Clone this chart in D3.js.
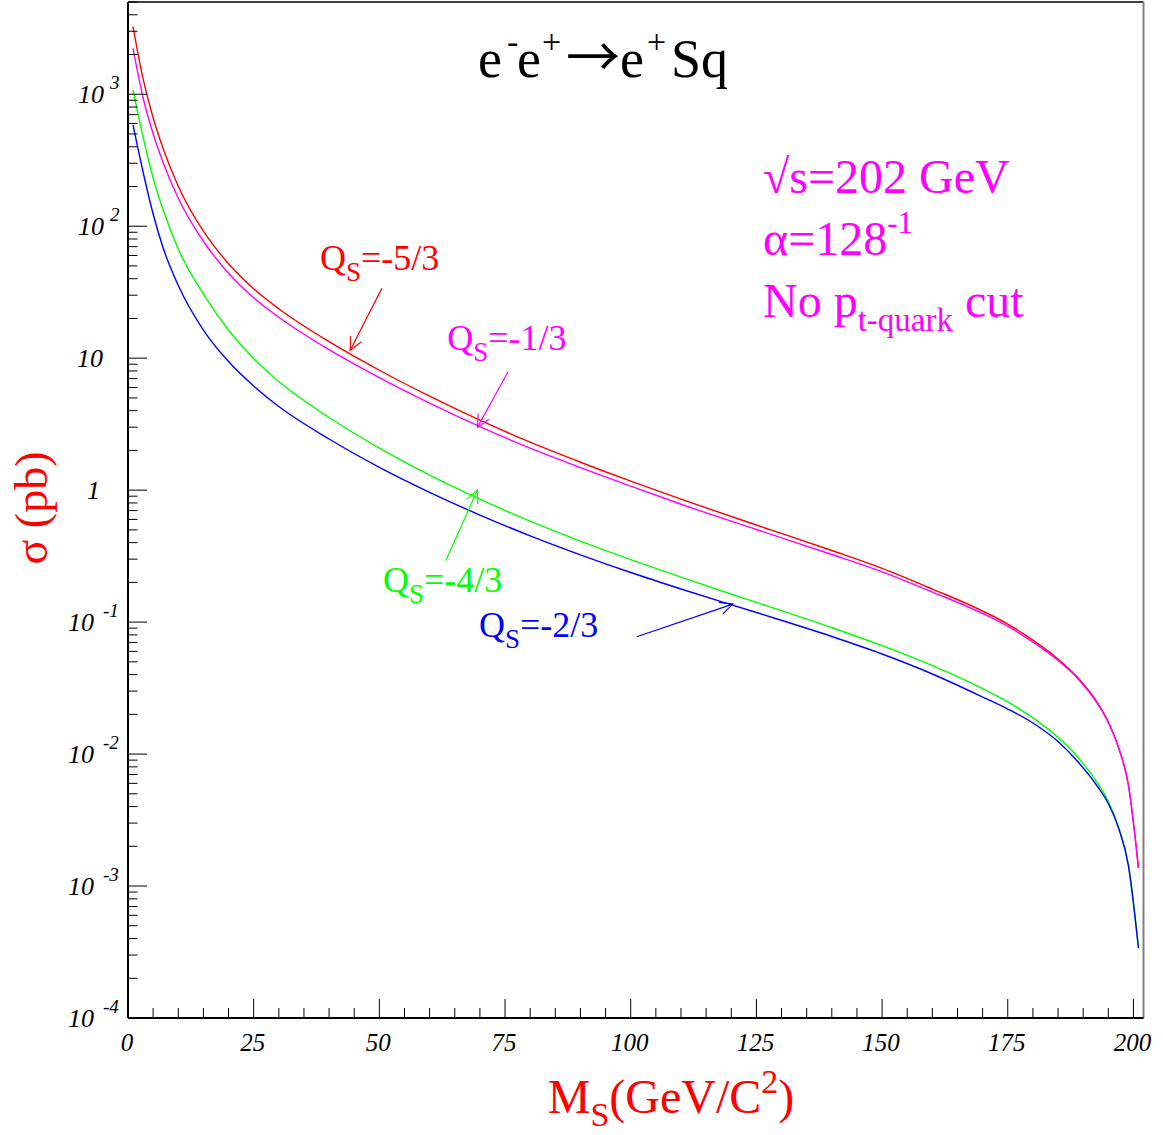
<!DOCTYPE html>
<html>
<head>
<meta charset="utf-8">
<script src="https://cdn.jsdelivr.net/npm/d3@7"></script>
<style>
  body { margin: 0; background: #fff; }
  text { font-family: 'Liberation Serif', 'Times New Roman', serif; }
</style>
</head>
<body>
<svg id="chart" width="1163" height="1135"></svg>
<script>
const width = 1163
const height = 1135

// M_S in GeV/c^2
const massPoints = [1, 3, 5, 7, 10, 15, 20, 25, 30, 40, 50, 60, 70, 80, 90, 100, 110, 125, 140, 150, 160, 170, 175, 180, 185, 189, 193, 195, 197, 199, 201]

// sigma in pb, one array per squark charge
const sigmaQ53 = [3250, 1311, 664, 386.5, 200.9, 91.6, 52.0, 33.6, 23.7, 13.33, 8.10, 5.15, 3.387, 2.307, 1.627, 1.169, 0.854, 0.544, 0.3487, 0.2556, 0.1781, 0.1213, 0.0967, 0.0731, 0.0525, 0.0377, 0.02395, 0.01749, 0.01131, 0.00583, 0.00137]
const sigmaQ13 = [2227, 941, 502, 302.8, 162.9, 76.9, 44.0, 28.7, 20.43, 11.59, 7.11, 4.557, 3.024, 2.078, 1.479, 1.071, 0.782, 0.503, 0.3253, 0.2405, 0.1690, 0.1162, 0.0931, 0.0706, 0.0512, 0.0371, 0.02362, 0.01735, 0.01125, 0.00583, 0.00137]
const sigmaQ43 = [1076, 474, 231.8, 132.6, 67.2, 30.6, 16.34, 9.94, 6.656, 3.550, 2.085, 1.302, 0.8537, 0.5815, 0.4102, 0.2971, 0.2189, 0.1410, 0.0908, 0.0663, 0.0468, 0.03133, 0.02485, 0.01879, 0.01338, 0.00943, 0.00591, 0.00439, 0.00282, 0.001443, 0.000338]
const sigmaQ23 = [584.4, 257.4, 123.7, 68.3, 35.52, 16.34, 9.43, 6.152, 4.301, 2.440, 1.489, 0.9627, 0.6476, 0.4507, 0.3236, 0.2375, 0.1781, 0.1182, 0.0778, 0.0573, 0.04044, 0.02706, 0.02195, 0.01720, 0.01245, 0.00871, 0.00558, 0.00422, 0.00278, 0.00143, 0.000339]

const seriesNames = ['-5/3', '-1/3', '-4/3', '-2/3']
const seriesColors = ['#ff0000', '#ff00ff', '#00ff00', '#0000ff']
const seriesValues = [sigmaQ53, sigmaQ13, sigmaQ43, sigmaQ23]

const xMajorTicks = [0, 25, 50, 75, 100, 125, 150, 175, 200]
const yDecades = [-4, -3, -2, -1, 0, 1, 2, 3]

// label anchor (mass, sigma), arrow start and arrow tip (mass, sigma)
const labelPos = [[38.2, 46.6], [63.5, 11.5], [50.7, 0.169], [69.8, 0.0771]]
const arrowFrom = [[50.5, 33.8], [75.6, 7.9], [63.2, 0.292], [101.2, 0.0774]]
const arrowTo = [[44.2, 11.5], [69.5, 2.99], [69.5, 1.0], [120.3, 0.137]]

const plotLeft = 128
const plotRight = 1143.5
const plotTop = 2
const plotBottom = 1018

const x = d3.scaleLinear().domain([0, 202]).range([plotLeft, plotRight])
const y = d3.scaleLog().domain([1e-4, 5000]).range([plotBottom, plotTop])

const svg = d3.select('svg#chart')

// frame
svg.append('line').attr('x1', plotLeft).attr('y1', plotTop).attr('x2', plotRight).attr('y2', plotTop)
  .attr('stroke', '#000').attr('stroke-width', 1.5)
svg.append('line').attr('x1', plotRight).attr('y1', plotTop).attr('x2', plotRight).attr('y2', plotBottom)
  .attr('stroke', '#808080').attr('stroke-width', 2)

// curves
const line = d3.line()
  .x((d) => x(d[0]))
  .y((d) => y(d[1]))
  .curve(d3.curveMonotoneX)

svg.selectAll('path.curve').data(seriesValues).enter().append('path')
  .attr('class', 'curve')
  .attr('d', (vals) => line(massPoints.map((m, i) => [m, vals[i]])))
  .attr('fill', 'none')
  .attr('stroke', (d, i) => seriesColors[i])
  .attr('stroke-width', 1.4)

// x axis ticks
const xMinor = d3.range(0, 201, 5).filter((v) => v % 25 !== 0)
svg.selectAll('line.xmaj').data(xMajorTicks).enter().append('line')
  .attr('x1', (d) => x(d)).attr('x2', (d) => x(d))
  .attr('y1', plotBottom).attr('y2', plotBottom - 19)
  .attr('stroke', '#000')
svg.selectAll('line.xmin').data(xMinor).enter().append('line')
  .attr('x1', (d) => x(d)).attr('x2', (d) => x(d))
  .attr('y1', plotBottom).attr('y2', plotBottom - 10)
  .attr('stroke', '#000')
svg.selectAll('text.xlab').data(xMajorTicks).enter().append('text')
  .attr('x', (d) => x(d) - 1)
  .attr('y', 1051)
  .attr('text-anchor', 'middle')
  .attr('font-size', 25)
  .attr('font-style', 'italic')
  .text((d) => d)

// y axis ticks
const yMinor = []
for (const e of yDecades) {
  for (let k = 2; k <= 9; k++) {
    const v = k * Math.pow(10, e)
    if (v <= 5000) yMinor.push(v)
  }
}
svg.selectAll('line.ymaj').data(yDecades).enter().append('line')
  .attr('x1', plotLeft).attr('x2', plotLeft + 19)
  .attr('y1', (d) => y(Math.pow(10, d))).attr('y2', (d) => y(Math.pow(10, d)))
  .attr('stroke', '#000')
svg.selectAll('line.ymin').data(yMinor).enter().append('line')
  .attr('x1', plotLeft).attr('x2', plotLeft + 9.5)
  .attr('y1', (d) => y(d)).attr('y2', (d) => y(d))
  .attr('stroke', '#000')

svg.selectAll('text.ylab').data(yDecades).enter().append('text')
  .attr('font-size', 26)
  .attr('font-style', 'italic')
  .attr('text-anchor', 'end')
  .attr('y', (d) => y(Math.pow(10, d)) + 9)
  .attr('x', (d) => d === 0 ? 100 : (d === 1 ? 103 : (d > 0 ? 104 : 94)))
  .text((d) => d === 0 ? '1' : '10')
yDecades.forEach((d) => {
  if (d === 0 || d === 1) return
  svg.append('text')
    .attr('x', d > 0 ? 110 : 103)
    .attr('y', y(Math.pow(10, d)) - 5)
    .attr('font-size', 19)
    .attr('font-style', 'italic')
    .text(d)
})

// axes lines
svg.append('line').attr('x1', plotLeft).attr('y1', plotTop).attr('x2', plotLeft).attr('y2', plotBottom)
  .attr('stroke', '#000').attr('stroke-width', 2)
svg.append('line').attr('x1', plotLeft).attr('y1', plotBottom).attr('x2', plotRight).attr('y2', plotBottom)
  .attr('stroke', '#000').attr('stroke-width', 2)

// axis titles
const xTitle = svg.append('text')
  .attr('x', 671).attr('y', 1113)
  .attr('text-anchor', 'middle')
  .attr('font-size', 48)
  .attr('fill', '#ff0000')
xTitle.append('tspan').text('M')
xTitle.append('tspan').attr('font-size', 34).attr('dy', 13).text('S')
xTitle.append('tspan').attr('dy', -13).text('(GeV/C')
xTitle.append('tspan').attr('font-size', 34).attr('dy', -20).text('2')
xTitle.append('tspan').attr('dy', 20).text(')')

svg.append('text')
  .attr('transform', 'translate(47,508) rotate(-90)')
  .attr('text-anchor', 'middle')
  .attr('font-size', 46)
  .attr('fill', '#ff0000')
  .text('σ (pb)')

// title, pieces placed one by one
const title = svg.append('text').attr('y', 77).attr('font-size', 54)
title.append('tspan').attr('x', 478).text('e')
title.append('tspan').attr('x', 507).attr('font-size', 34).attr('dy', -24).text('-')
title.append('tspan').attr('x', 517).attr('dy', 24).text('e')
title.append('tspan').attr('x', 542).attr('font-size', 34).attr('dy', -24).text('+')
title.append('tspan').attr('x', 566).attr('dy', 24).attr('font-family', 'Noto Sans CJK JP').attr('font-size', 54).text('→')
title.append('tspan').attr('x', 620).text('e')
title.append('tspan').attr('x', 647).attr('font-size', 34).attr('dy', -24).text('+')
title.append('tspan').attr('x', 671).attr('dy', 24).text('Sq')

// info block
const info = svg.append('g').attr('fill', '#ff00ff').attr('font-size', 48)
info.append('text').attr('x', 763).attr('y', 193).text('√s=202 GeV')
const alphaLine = info.append('text').attr('x', 763).attr('y', 255)
alphaLine.append('tspan').text('α=128')
alphaLine.append('tspan').attr('font-size', 31).attr('dy', -22).text('-1')
const cutLine = info.append('text').attr('x', 763).attr('y', 317)
cutLine.append('tspan').text('No p')
cutLine.append('tspan').attr('font-size', 33).attr('dy', 14).text('t-quark')
cutLine.append('tspan').attr('dy', -14).text(' cut')

// series labels and arrows
seriesNames.forEach((name, i) => {
  const lbl = svg.append('text')
    .attr('x', x(labelPos[i][0])).attr('y', y(labelPos[i][1]))
    .attr('font-size', 36)
    .attr('fill', seriesColors[i])
  lbl.append('tspan').text('Q')
  lbl.append('tspan').attr('font-size', 27).attr('dy', 11).text('S')
  lbl.append('tspan').attr('dy', -11).text('=' + name)

  const x0 = x(arrowFrom[i][0]), y0 = y(arrowFrom[i][1])
  const x1 = x(arrowTo[i][0]), y1 = y(arrowTo[i][1])
  const ang = Math.atan2(y1 - y0, x1 - x0)
  const headLen = 14
  const spread = 0.45
  const g = svg.append('g').attr('stroke', seriesColors[i]).attr('stroke-width', 1.2).attr('fill', 'none')
  g.append('line').attr('x1', x0).attr('y1', y0).attr('x2', x1).attr('y2', y1)
  g.append('path').attr('d', d3.line()([
    [x1 - headLen * Math.cos(ang - spread), y1 - headLen * Math.sin(ang - spread)],
    [x1, y1],
    [x1 - headLen * Math.cos(ang + spread), y1 - headLen * Math.sin(ang + spread)]
  ]))
})
</script>
</body>
</html>
